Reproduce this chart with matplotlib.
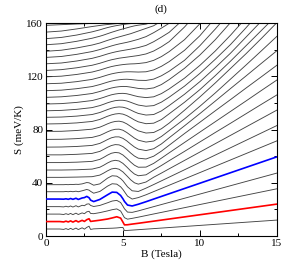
import numpy as np
import matplotlib
matplotlib.use("Agg")
import matplotlib.pyplot as plt
from matplotlib.ticker import MultipleLocator

# B grid for the low-temperature curves (finer, to follow the oscillations)
B_low = [0, 0.9, 1.15, 1.3, 1.45, 1.6, 1.75, 1.95, 2.1, 2.35, 2.5, 2.65, 2.8, 2.9,
         3.1, 3.5, 4.0, 4.3, 4.6, 4.85, 5.0, 5.1, 5.3, 5.6, 6.0, 6.5, 7, 15]

# curves 1..7 (bottom up), read on B_low
S_low = [
    [5.3, 5.3, 5.0, 5.6, 4.9, 5.8, 4.9, 6.0, 4.9, 6.2, 5.2, 6.5, 7.4, 5.0,
     5.4, 5.6, 5.8, 5.9, 6.1, 6.4, 6.5, 4.1, 4.24, 4.48, 4.8, 5.2, 5.6, 12.0],
    [10.9, 10.9, 10.6, 11.2, 10.6, 11.4, 10.5, 11.6, 10.6, 11.8, 11.0, 12.3, 13.0, 11.0,
     11.3, 11.9, 12.8, 13.6, 14.5, 13.5, 10.5, 8.4, 8.5, 9.0, 9.6, 10.4, 11.2, 24.0],
    [16.5, 16.5, 16.2, 16.8, 16.2, 17.0, 16.1, 17.2, 16.2, 17.4, 16.8, 18.2, 18.6, 17.0,
     16.8, 17.6, 18.9, 19.8, 20.4, 18.8, 15.8, 13.8, 12.7, 13.3, 14.2, 15.4, 16.6, 35.5],
    [22.1, 22.1, 21.9, 22.4, 21.9, 22.6, 21.8, 22.8, 21.9, 23.1, 22.8, 24.0, 24.2, 23.0,
     22.2, 23.0, 25.0, 26.3, 26.8, 25.2, 22.5, 20.5, 18.0, 17.8, 18.9, 20.5, 22.1, 47.3],
    [27.8, 27.8, 27.7, 28.0, 27.6, 28.2, 27.6, 28.4, 27.5, 28.6, 28.9, 29.8, 28.8, 27.0,
     25.9, 27.5, 31.0, 33.0, 32.8, 30.5, 28.0, 26.0, 23.3, 22.6, 23.9, 25.8, 27.8, 59.5],
    [33.3, 33.3, 33.3, 33.5, 33.3, 33.6, 33.3, 33.7, 33.3, 34.0, 34.5, 35.0, 34.5, 33.6,
     32.2, 33.5, 37.5, 39.3, 39.0, 37.0, 35.0, 33.3, 30.0, 27.8, 28.9, 31.0, 33.4, 71.5],
    [38.6, 38.6, 38.6, 38.7, 38.6, 38.8, 38.7, 38.9, 38.8, 39.2, 39.7, 40.2, 40.0, 39.4,
     38.2, 39.2, 43.5, 45.3, 45.0, 43.2, 41.5, 40.0, 37.0, 34.0, 33.5, 36.0, 38.7, 83.0],
]

# B grid for the higher-temperature curves
B_high = [0, 1, 2, 3, 3.5, 3.75, 4, 4.25, 4.5, 4.75, 5, 5.25, 5.5, 5.75, 6, 6.5,
          7, 7.5, 8, 9, 10, 11, 12, 13, 14, 15]

# curves 8..30, read on B_high (values past 160 run off the top)
S_high = [
    [44.1, 44.1, 44.3, 44.6, 45.8, 47.3, 49.0, 50.4, 50.9, 50.2, 48.2, 45.3, 42.3, 40.0, 39.0, 40.6,
     44.2, 47.3, 50.5, 56.8, 63.1, 69.4, 75.7, 82.0, 88.3, 94.6],
    [49.6, 49.6, 49.8, 50.3, 51.7, 53.2, 54.9, 56.3, 56.9, 56.4, 54.6, 51.9, 49.0, 46.6, 45.3, 46.0,
     49.6, 53.0, 56.6, 63.6, 70.7, 77.8, 84.8, 91.9, 99.0, 106.0],
    [55.2, 55.2, 55.5, 56.1, 57.6, 59.1, 60.8, 62.2, 62.8, 62.5, 60.9, 58.4, 55.6, 53.2, 51.7, 51.8,
     54.6, 58.5, 62.5, 70.3, 78.1, 85.9, 93.7, 101.5, 109.4, 117.2],
    [61.0, 61.0, 61.4, 62.1, 63.6, 65.1, 66.7, 68.0, 68.7, 68.5, 67.2, 65.0, 62.4, 60.1, 58.5, 57.9,
     60.0, 63.8, 68.2, 77.0, 85.5, 94.1, 102.6, 111.2, 119.7, 128.3],
    [66.8, 66.9, 67.3, 68.1, 69.6, 71.0, 72.5, 73.8, 74.5, 74.5, 73.4, 71.5, 69.1, 66.9, 65.3, 64.2,
     65.6, 69.2, 73.8, 82.8, 92.0, 101.4, 110.9, 120.3, 129.8, 139.2],
    [72.6, 72.7, 73.2, 74.1, 75.6, 76.9, 78.3, 79.5, 80.2, 80.3, 79.5, 77.8, 75.7, 73.6, 72.0, 70.6,
     71.4, 74.8, 79.2, 88.0, 97.5, 107.5, 118.0, 128.5, 139.2, 150.0],
    [78.6, 78.7, 79.3, 80.3, 81.8, 83.0, 84.3, 85.4, 86.1, 86.3, 85.7, 84.3, 82.4, 80.5, 79.0, 77.4,
     77.8, 80.6, 84.8, 94.5, 104.5, 115.0, 126.0, 137.0, 148.5, 160.3],
    [84.2, 84.4, 85.0, 86.1, 87.6, 88.8, 90.0, 91.0, 91.7, 92.0, 91.6, 90.5, 88.9, 87.2, 85.8, 84.4,
     84.8, 87.5, 91.8, 100.5, 110.0, 120.5, 131.5, 143.0, 154.5, 166.0],
    [89.2, 89.4, 90.1, 91.3, 92.8, 93.9, 95.0, 96.0, 96.7, 97.0, 96.8, 96.0, 94.7, 93.3, 92.1, 90.9,
     91.3, 94.0, 98.0, 106.5, 116.0, 126.5, 137.5, 149.5, 161.5, 173.5],
    [94.1, 94.4, 95.2, 96.5, 98.0, 99.0, 100.1, 101.0, 101.7, 102.0, 102.0, 101.5, 100.5, 99.4, 98.4, 97.5,
     98.0, 100.6, 104.3, 112.6, 122.2, 132.8, 144.0, 156.5, 169.5, 183.0],
    [99.2, 99.5, 100.4, 101.8, 103.3, 104.2, 105.2, 106.1, 106.7, 107.1, 107.2, 106.9, 106.2, 105.4, 104.7, 104.0,
     104.6, 107.0, 110.5, 118.6, 128.2, 139.0, 151.0, 164.0, 177.0, 190.0],
    [104.2, 104.6, 105.6, 107.1, 108.6, 109.5, 110.4, 111.2, 111.8, 112.2, 112.4, 112.3, 111.9, 111.4, 110.9, 110.5,
     111.3, 113.8, 117.5, 126.0, 136.0, 147.5, 160.5, 174.0, 188.0, 202.0],
    [109.2, 109.6, 110.7, 112.3, 113.8, 114.7, 115.6, 116.4, 117.0, 117.4, 117.7, 117.8, 117.6, 117.3, 117.0, 116.9,
     117.9, 120.4, 123.8, 132.0, 143.0, 155.5, 169.0, 183.0, 197.0, 211.0],
    [114.4, 114.8, 116.0, 117.7, 119.2, 120.1, 121.0, 121.8, 122.4, 122.9, 123.2, 123.4, 123.4, 123.3, 123.2, 123.4,
     124.8, 127.5, 131.0, 139.5, 150.5, 164.0, 178.0, 192.0, 206.0, 220.0],
    [119.6, 120.1, 121.4, 123.2, 124.7, 125.6, 126.5, 127.3, 127.9, 128.4, 128.8, 129.1, 129.3, 129.4, 129.6, 130.3,
     132.0, 134.8, 138.5, 147.5, 159.5, 173.0, 187.0, 201.0, 215.0, 229.0],
    [124.4, 125.0, 126.4, 128.3, 129.8, 130.7, 131.6, 132.4, 133.0, 133.6, 134.0, 134.4, 134.8, 135.2, 135.6, 136.8,
     139.0, 142.2, 146.0, 157.0, 170.0, 184.0, 198.0, 212.0, 226.0, 240.0],
    [129.4, 130.0, 131.5, 133.5, 135.0, 135.9, 136.8, 137.6, 138.3, 138.9, 139.4, 139.9, 140.4, 141.0, 141.6, 143.2,
     146.0, 149.4, 153.0, 163.5, 176.0, 190.0, 204.0, 218.0, 232.0, 246.0],
    [134.2, 134.9, 136.5, 138.6, 140.1, 141.0, 141.9, 142.8, 143.6, 144.3, 144.9, 145.5, 146.2, 147.0, 147.8, 149.8,
     152.8, 156.2, 159.8, 170.0, 182.0, 196.0, 210.0, 224.0, 238.0, 252.0],
    [138.8, 139.6, 141.3, 143.5, 145.0, 146.0, 147.0, 147.9, 148.8, 149.6, 150.4, 151.2, 152.0, 153.0, 154.0, 156.0,
     158.0, 161.5, 165.5, 176.0, 188.0, 202.0, 216.0, 230.0, 244.0, 258.0],
    [143.7, 144.5, 146.3, 148.6, 150.1, 151.0, 152.0, 153.0, 153.9, 154.8, 155.6, 156.4, 157.2, 157.9, 158.4, 159.2,
     161.0, 164.0, 168.0, 178.0, 190.0, 204.0, 218.0, 232.0, 246.0, 260.0],
    [148.3, 149.2, 151.0, 153.4, 154.9, 155.8, 156.6, 157.3, 157.9, 158.4, 158.9, 159.3, 159.6, 159.8, 160.0, 161.0,
     163.0, 166.0, 170.0, 180.0, 192.0, 206.0, 220.0, 234.0, 248.0, 262.0],
    [153.2, 154.0, 155.6, 157.4, 158.2, 158.6, 158.9, 159.2, 159.5, 159.7, 159.9, 160.2, 160.5, 161.0, 161.5, 163.0,
     165.0, 168.0, 172.0, 182.0, 194.0, 208.0, 222.0, 236.0, 250.0, 264.0],
    [158.3, 158.8, 159.3, 159.7, 159.9, 160.0, 160.1, 160.2, 160.3, 160.5, 160.8, 161.1, 161.5, 162.0, 162.5, 164.0,
     166.0, 169.0, 173.0, 183.0, 195.0, 209.0, 223.0, 237.0, 251.0, 265.0],
]

red_curve = 2
blue_curve = 5

plt.rcParams['font.family'] = ['Liberation Serif', 'DejaVu Serif']

fig = plt.figure(figsize=(2.89, 2.62), dpi=100)
ax = fig.add_axes([0.159, 0.099, 0.799, 0.813])

curves = [(B_low, s) for s in S_low] + [(B_high, s) for s in S_high]
for i, (bb, ss) in enumerate(curves):
    n = i + 1
    if n == red_curve:
        ax.plot(bb, ss, color='#ff0000', lw=1.2, zorder=3)
    elif n == blue_curve:
        ax.plot(bb, ss, color='#0000ff', lw=1.2, zorder=3)
    else:
        ax.plot(bb, ss, color='#444444', lw=0.65, zorder=2)

ax.set_xlim(0, 15)
ax.set_ylim(0, 160)
ax.xaxis.set_major_locator(MultipleLocator(5))
ax.xaxis.set_minor_locator(MultipleLocator(2.5))
ax.yaxis.set_major_locator(MultipleLocator(40))
ax.yaxis.set_minor_locator(MultipleLocator(20))
ax.tick_params(which='both', direction='in', top=True, right=True, labelsize=8, pad=2)
ax.tick_params(which='major', length=4, width=0.7)
ax.tick_params(which='minor', length=2, width=0.7)
for sp in ax.spines.values():
    sp.set_linewidth(0.8)

ax.set_xlabel('B (Tesla)', fontsize=8, labelpad=1)
ax.set_ylabel('S (meV/K)', fontsize=8, labelpad=2)
ax.set_title('(d)', fontsize=8, pad=8)

fig.savefig('out.png', dpi=100)
